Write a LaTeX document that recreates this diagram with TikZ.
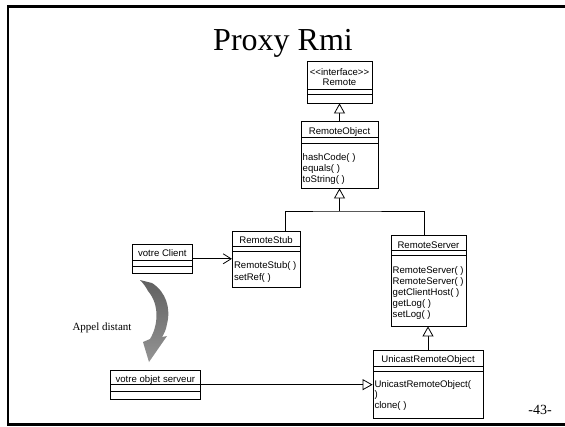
\documentclass[tikz,border=0pt]{standalone}
\usepackage{fontspec}
\setmainfont{Liberation Serif}
\setsansfont{Liberation Sans}
\usetikzlibrary{arrows.meta}
\begin{document}
\begin{tikzpicture}[x=1pt,y=-1pt,
  cls/.style={draw, line width=0.8pt, inner sep=0pt, fill=white},
  txt/.style={font=\sffamily\fontsize{9.6}{11}\selectfont, inner sep=0pt},
  nm/.style={txt, anchor=base},
  op/.style={txt, anchor=base west},
  sep/.style={line width=0.8pt},
  gen/.style={line width=0.8pt, -{Triangle[open, length=10pt, width=11pt, fill=white]}},
  assoc/.style={line width=0.8pt, -{Straight Barb[length=8pt, width=10pt]}},
  frame/.style={line width=2.5pt}
]
\useasboundingbox (0,0) rectangle (565,426);
% slide frame
\draw[frame] (570,6.5) -- (8,6.5) -- (8,424.5) -- (570,424.5);

% title
\node[font=\fontsize{32}{36}\selectfont, anchor=base, inner sep=0pt] (title) at (283,50) {Proxy Rmi};

% Remote
\node[cls, minimum width=65pt, minimum height=42pt] (remote) at (339.5,82) {};
\draw[sep] (307,89) -- (372,89) (307,94) -- (372,94);
\node[nm] (remote-s) at (339.5,75.5) {{<}{<}interface{>}{>}};
\node[nm] (remote-n) at (339.5,85.5) {Remote};

% RemoteObject
\node[cls, minimum width=77pt, minimum height=67pt] (robj) at (339.5,154.5) {};
\draw[sep] (301,137.7) -- (378,137.7) (301,143.3) -- (378,143.3);
\node[nm] (robj-n) at (339.5,134) {RemoteObject};
\node[op] (robj-m1) at (302.5,160) {hashCode( )};
\node[op] (robj-m2) at (302.5,171) {equals( )};
\node[op] (robj-m3) at (302.5,182) {toString( )};

% RemoteStub
\node[cls, minimum width=67.7pt, minimum height=56.3pt] (stub) at (266.15,259.15) {};
\draw[sep] (232.3,246.7) -- (300,246.7) (232.3,251.7) -- (300,251.7);
\node[nm] (stub-n) at (266.15,243.5) {RemoteStub};
\node[op] (stub-m1) at (233.8,268.5) {RemoteStub( )};
\node[op] (stub-m2) at (233.8,280) {setRef( )};

% votre Client
\node[cls, minimum width=60pt, minimum height=29pt] (client) at (162.3,258.8) {};
\draw[sep] (132.3,260) -- (192.3,260) (132.3,266) -- (192.3,266);
\node[nm] (client-n) at (162.3,256) {votre Client};

% RemoteServer
\node[cls, minimum width=75pt, minimum height=90.3pt] (server) at (428.5,280.85) {};
\draw[sep] (391,250.7) -- (466,250.7) (391,255.7) -- (466,255.7);
\node[nm] (server-n) at (428.5,248) {RemoteServer};
\node[op] (server-m1) at (392.5,273.5) {RemoteServer( )};
\node[op] (server-m2) at (392.5,284.5) {RemoteServer( )};
\node[op] (server-m3) at (392.5,295.5) {getClientHost( )};
\node[op] (server-m4) at (392.5,306.5) {getLog( )};
\node[op] (server-m5) at (392.5,317.5) {setLog( )};

% UnicastRemoteObject
\node[cls, minimum width=110pt, minimum height=68pt] (uni) at (428,384) {};
\draw[sep] (373,366.5) -- (483,366.5) (373,371.5) -- (483,371.5);
\node[nm] (uni-n) at (428,362) {UnicastRemoteObject};
\node[op] (uni-m1) at (374.3,387) {UnicastRemoteObject(};
\node[op] (uni-m2) at (374.3,397.5) {)};
\node[op] (uni-m3) at (374.3,408) {clone( )};

% votre objet serveur
\node[cls, minimum width=90.7pt, minimum height=29.3pt] (obj) at (155.35,384.65) {};
\draw[sep] (110,384.3) -- (200.7,384.3) (110,391) -- (200.7,391);
\node[nm] (obj-n) at (155.35,382.5) {votre objet serveur};

% connectors
\draw[gen] (robj.north) -- (remote.south);
\coordinate (jn) at (339.5,211);
\draw[sep] ([xshift=19.35pt]stub.north) |- (jn) -| ([xshift=-4pt]server.north);
\draw[gen] (jn) -- (robj.south);
\draw[gen] (uni.north) -- (uni.north |- server.south);
\draw[assoc] (client.east) -- (client.east -| stub.west);
\draw[gen] (obj.east) -- (obj.east -| uni.west);

% curved remote-call arrow
\shade[top color=black!62, bottom color=black!42, draw=none]
  (140,280) -- (152,283) .. controls (166,292) and (171,308) .. (167,324)
  .. controls (166,330) and (164,334) .. (162,337) -- (167,336) -- (149,362)
  -- (143,342) -- (150,339) .. controls (158,326) and (160,305) .. (148,291)
  .. controls (146,287) and (143,283) .. (140,280) -- cycle;
\node[font=\fontsize{11}{13}\selectfont, anchor=base, inner sep=0pt] (appel) at (102,330.5) {Appel distant};

% page number
\node[font=\fontsize{14}{16}\selectfont, anchor=base, inner sep=0pt] (page) at (540,414) {-43-};
\end{tikzpicture}
\end{document}
